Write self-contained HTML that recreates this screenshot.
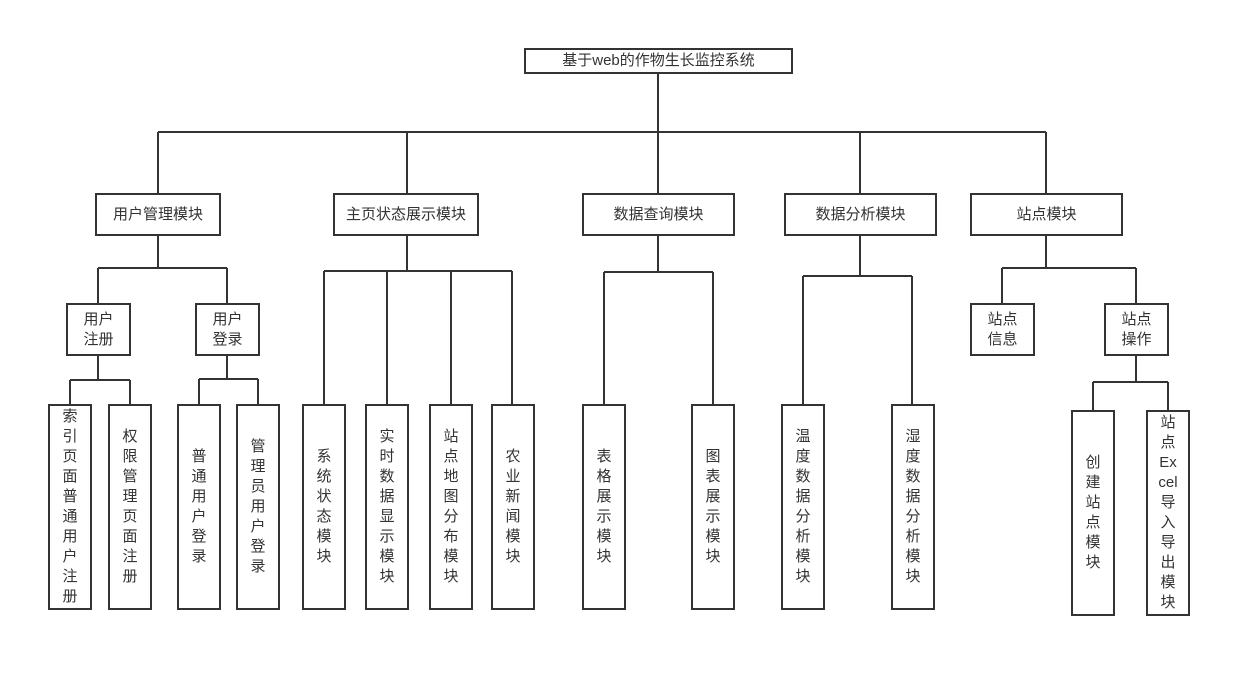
<!DOCTYPE html>
<html><head><meta charset="utf-8"><style>
body{margin:0;background:#fff;width:1251px;height:677px;position:relative;overflow:hidden;font-family:"Liberation Sans","Noto Sans CJK SC",sans-serif;color:#333}
.b{position:absolute;box-sizing:border-box;border:2px solid #333;background:#fff;display:flex;align-items:center;justify-content:center;text-align:center;font-size:15px;line-height:20px}
svg{position:absolute;left:0;top:0}
</style></head><body>
<svg width="1251" height="677" stroke="#333" stroke-width="2" fill="none">
<path d="M658 73V132M158 132H1046M158 132V193M407 132V193M658 132V193M860 132V193M1046 132V193"/>
<path d="M158 235V268M98 268H227M98 268V303M227 268V303"/>
<path d="M98 355V380M70 380H130M70 380V404M130 380V404"/>
<path d="M227 355V379M199 379H258M199 379V404M258 379V404"/>
<path d="M407 235V271M324 271H512M324 271V404M387 271V404M451 271V404M512 271V404"/>
<path d="M658 235V272M604 272H713M604 272V404M713 272V404"/>
<path d="M860 235V276M803 276H912M803 276V404M912 276V404"/>
<path d="M1046 235V268M1002 268H1136M1002 268V303M1136 268V303"/>
<path d="M1136 355V382M1093 382H1168M1093 382V410M1168 382V410"/>
</svg>
<div class="b" style="left:524px;top:48px;width:269px;height:26px">基于web的作物生长监控系统</div>
<div class="b" style="left:95px;top:193px;width:126px;height:43px">用户管理模块</div>
<div class="b" style="left:333px;top:193px;width:146px;height:43px">主页状态展示模块</div>
<div class="b" style="left:582px;top:193px;width:153px;height:43px">数据查询模块</div>
<div class="b" style="left:784px;top:193px;width:153px;height:43px">数据分析模块</div>
<div class="b" style="left:970px;top:193px;width:153px;height:43px">站点模块</div>
<div class="b" style="left:66px;top:303px;width:65px;height:53px">用户<br>注册</div>
<div class="b" style="left:195px;top:303px;width:65px;height:53px">用户<br>登录</div>
<div class="b" style="left:970px;top:303px;width:65px;height:53px">站点<br>信息</div>
<div class="b" style="left:1104px;top:303px;width:65px;height:53px">站点<br>操作</div>
<div class="b" style="left:48px;top:404px;width:44px;height:206px">索<br>引<br>页<br>面<br>普<br>通<br>用<br>户<br>注<br>册</div>
<div class="b" style="left:108px;top:404px;width:44px;height:206px">权<br>限<br>管<br>理<br>页<br>面<br>注<br>册</div>
<div class="b" style="left:177px;top:404px;width:44px;height:206px">普<br>通<br>用<br>户<br>登<br>录</div>
<div class="b" style="left:236px;top:404px;width:44px;height:206px">管<br>理<br>员<br>用<br>户<br>登<br>录</div>
<div class="b" style="left:302px;top:404px;width:44px;height:206px">系<br>统<br>状<br>态<br>模<br>块</div>
<div class="b" style="left:365px;top:404px;width:44px;height:206px">实<br>时<br>数<br>据<br>显<br>示<br>模<br>块</div>
<div class="b" style="left:429px;top:404px;width:44px;height:206px">站<br>点<br>地<br>图<br>分<br>布<br>模<br>块</div>
<div class="b" style="left:491px;top:404px;width:44px;height:206px">农<br>业<br>新<br>闻<br>模<br>块</div>
<div class="b" style="left:582px;top:404px;width:44px;height:206px">表<br>格<br>展<br>示<br>模<br>块</div>
<div class="b" style="left:691px;top:404px;width:44px;height:206px">图<br>表<br>展<br>示<br>模<br>块</div>
<div class="b" style="left:781px;top:404px;width:44px;height:206px">温<br>度<br>数<br>据<br>分<br>析<br>模<br>块</div>
<div class="b" style="left:891px;top:404px;width:44px;height:206px">湿<br>度<br>数<br>据<br>分<br>析<br>模<br>块</div>
<div class="b" style="left:1071px;top:410px;width:44px;height:206px">创<br>建<br>站<br>点<br>模<br>块</div>
<div class="b" style="left:1146px;top:410px;width:44px;height:206px">站<br>点<br>Ex<br>cel<br>导<br>入<br>导<br>出<br>模<br>块</div>
</body></html>
